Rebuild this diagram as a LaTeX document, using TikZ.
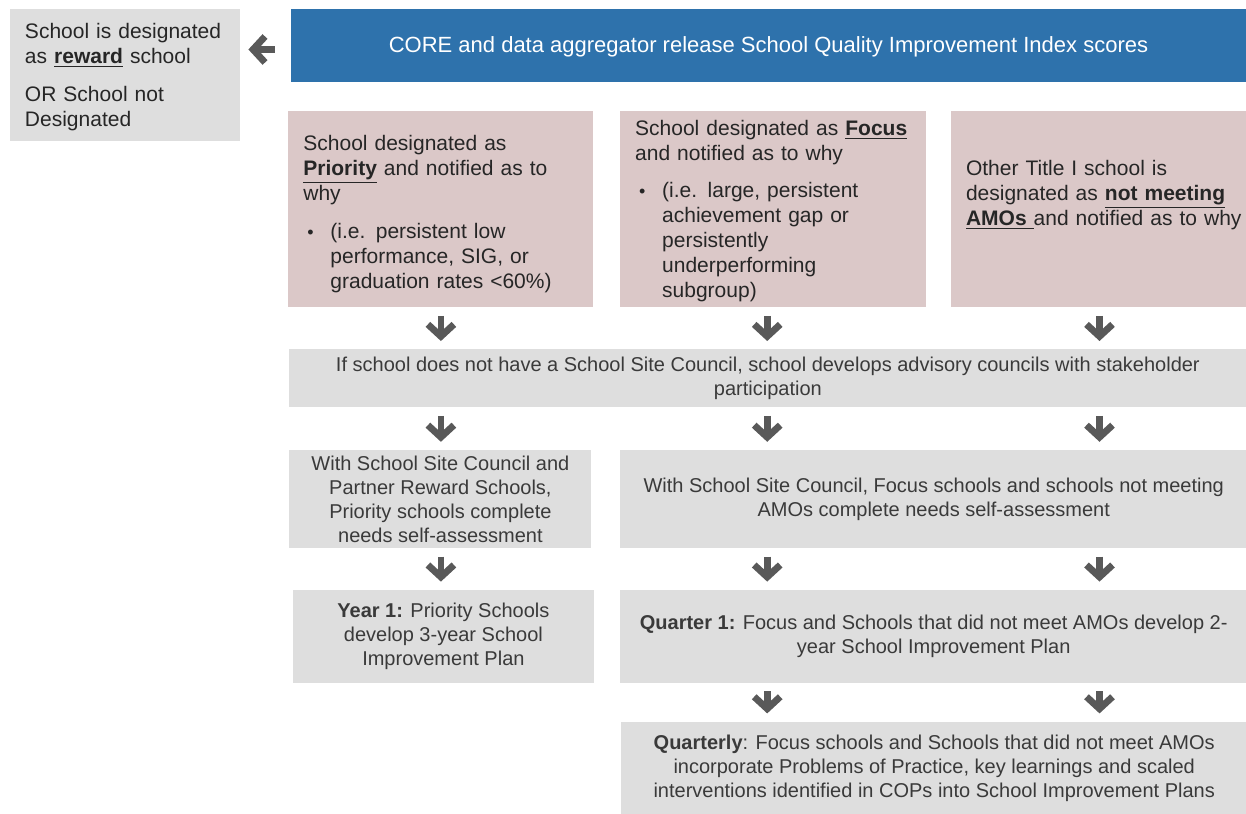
\documentclass[tikz,border=0pt]{standalone}
\usepackage{fontspec}
\setmainfont{Liberation Sans}
\usetikzlibrary{arrows.meta,positioning}
\definecolor{barblue}{HTML}{2E72AC}
\definecolor{desigfill}{HTML}{DBC8C8}
\definecolor{stepfill}{HTML}{DEDEDE}
\definecolor{chevgray}{HTML}{595959}
\definecolor{inkgray}{HTML}{3A3A3A}
\newcommand{\bulletrow}{\hspace*{2pt}\makebox[11.5pt][l]{\small\textbullet}}
\newcommand{\hangrow}{\hspace*{13.5pt}}
\tikzset{
  panel/.style={inner sep=0pt,font=\fontsize{10}{12}\selectfont,text=inkgray},
  barbox/.style={panel,fill=barblue,text=white,minimum width=477.5pt,minimum height=36.5pt,font=\fontsize{11}{13}\selectfont},
  desigbox/.style={panel,fill=desigfill,text=black!85,minimum height=98pt,align=left,inner xsep=7.5pt,font=\fontsize{10.5}{12.5}\selectfont},
  rewardbox/.style={desigbox,fill=stepfill,minimum height=66pt},
  graybox/.style={panel,fill=stepfill,align=center},
  chev/.style={-{Straight Barb[length=6pt,width=13pt]},line width=3.4pt,draw=chevgray,shorten <=4pt,shorten >=4pt}
}
\begin{document}
\begin{tikzpicture}[x=0.5pt,y=-0.5pt]
  \useasboundingbox (0,0) rectangle (1246,813);
  % top row
  \node[barbox] (release) at (768.5,45.5) {\rule{0pt}{9pt}CORE and data aggregator release School Quality Improvement Index scores};
  \node[rewardbox,text width=100pt] (reward) at (125,75) {\rule{0pt}{10pt}School is designated\\as \underline{\textbf{reward}} school\\[6.5pt]OR School not\\Designated};
  % designations
  \node[desigbox,text width=137.5pt,anchor=north west] (priority) at (288,111) {\rule{0pt}{12.5pt}School designated as\\\underline{\textbf{Priority}} and notified as to\\why\\[6.5pt]\bulletrow(i.e. persistent low\\\hangrow performance, SIG, or\\\hangrow graduation rates <60\%)};
  \node[desigbox,text width=138pt,right=13pt of priority] (focus) {\rule{0pt}{9.5pt}School designated as \underline{\textbf{Focus}}\\and notified as to why\\[6pt]\bulletrow(i.e. large, persistent\\\hangrow achievement gap or\\\hangrow persistently\\\hangrow underperforming\\\hangrow subgroup)};
  \node[desigbox,text width=133.5pt,right=12pt of focus] (notmeeting) {Other Title I school is\\\mbox{designated as \underline{\textbf{not meeting}}}\\\mbox{\underline{\textbf{AMOs\ }}and notified as to why}\rule[-16.5pt]{0pt}{16.5pt}};
  % councils and plans
  \node[graybox,minimum width=478.5pt,minimum height=29pt,anchor=north west] (council) at (289,349) {If school does not have a School Site Council, school develops advisory councils with stakeholder\\participation};
  \node[graybox,minimum width=151pt,minimum height=49pt,below right=21pt and 0pt of council.south west] (priorityneeds) {With School Site Council and\\Partner Reward Schools,\\Priority schools complete\\needs self-assessment};
  \node[graybox,minimum width=313.5pt,minimum height=49pt,right=14pt of priorityneeds] (focusneeds) {With School Site Council, Focus schools and schools not meeting\\AMOs complete needs self-assessment};
  \node[graybox,minimum width=150.5pt,minimum height=46.5pt,below=20.5pt of priorityneeds,xshift=1.5pt] (yearone) {\textbf{Year 1:} Priority Schools\\develop 3-year School\\Improvement Plan};
  \node[graybox,minimum width=313.5pt,minimum height=46.5pt,below=20.5pt of focusneeds] (quarterone) {\textbf{Quarter 1:} Focus and Schools that did not meet AMOs develop 2-\\year School Improvement Plan};
  \node[graybox,minimum width=313pt,minimum height=47pt,below=19pt of quarterone,xshift=0.25pt] (quarterly) {\textbf{Quarterly}: Focus schools and Schools that did not meet AMOs\\incorporate Problems of Practice, key learnings and scaled\\interventions identified in COPs into School Improvement Plans};
  % column references for the arrows
  \coordinate (colone) at (priority.south);
  \coordinate (coltwo) at ([xshift=-3pt]focus.south);
  \coordinate (colthree) at (notmeeting.south);
  \draw[chev,shorten <=8pt] ([yshift=-2pt]release.west) -- ([yshift=-2pt]reward.east |- release.west);
  \draw[chev] (colone) -- (colone |- council.north);
  \draw[chev] (coltwo) -- (coltwo |- council.north);
  \draw[chev] (colthree) -- (colthree |- council.north);
  \draw[chev] (colone |- council.south) -- (colone |- priorityneeds.north);
  \draw[chev] (coltwo |- council.south) -- (coltwo |- focusneeds.north);
  \draw[chev] (colthree |- council.south) -- (colthree |- focusneeds.north);
  \draw[chev] (colone |- priorityneeds.south) -- (colone |- yearone.north);
  \draw[chev] (coltwo |- focusneeds.south) -- (coltwo |- quarterone.north);
  \draw[chev] (colthree |- focusneeds.south) -- (colthree |- quarterone.north);
  \draw[chev] (coltwo |- quarterone.south) -- (coltwo |- quarterly.north);
  \draw[chev] (colthree |- quarterone.south) -- (colthree |- quarterly.north);
\end{tikzpicture}
\end{document}
